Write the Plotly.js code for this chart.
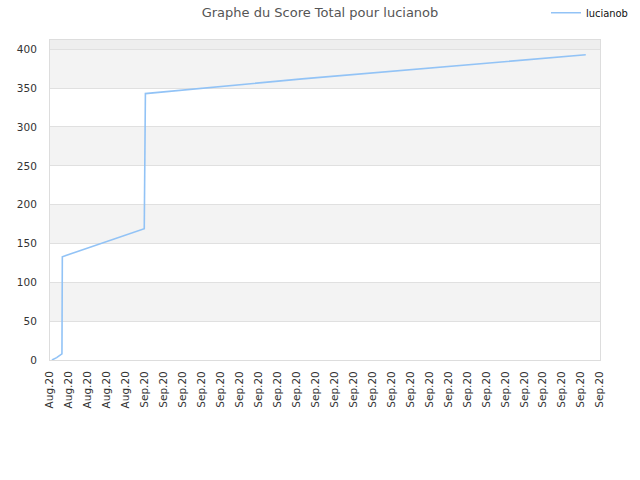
<!DOCTYPE html>
<html>
<head>
<meta charset="utf-8">
<script src="https://cdn.plot.ly/plotly-3.0.1.min.js"></script>
<style>html,body{margin:0;padding:0;background:#fff;}#chart{width:640px;height:480px;}</style>
</head>
<body>
<div id="chart"></div>
<script>
// Tick labels along the x axis (one per regular step)
var tickLabels = ["Aug.20","Aug.20","Aug.20","Aug.20","Aug.20",
  "Sep.20","Sep.20","Sep.20","Sep.20","Sep.20","Sep.20","Sep.20","Sep.20","Sep.20","Sep.20",
  "Sep.20","Sep.20","Sep.20","Sep.20","Sep.20","Sep.20","Sep.20","Sep.20","Sep.20","Sep.20",
  "Sep.20","Sep.20","Sep.20","Sep.20","Sep.20"];
var tickPositions = tickLabels.map(function(_, i){ return i; });

// Score series (x = position on the time axis in tick steps, y = total score)
var seriesName = "lucianob";
var timeSteps = [0.10, 0.35, 0.63, 0.65, 4.97, 4.98, 5.01, 5.03, 13.3, 28.25];
var scores    = [0,    3,    8,    133,  169,  228,  228,  343,  362,  393];

var yBands = [0, 50, 100, 150, 200, 250, 300, 350, 400];

var shapes = [];
for (var i = 0; i < yBands.length - 1; i++) {
  if (i % 2 === 1) {
    shapes.push({type:'rect', xref:'paper', yref:'y', x0:0, x1:1, y0:yBands[i], y1:yBands[i+1],
      fillcolor:'#f3f3f3', line:{width:0}, layer:'below'});
  }
}
shapes.push({type:'rect', xref:'paper', yref:'y', x0:0, x1:1, y0:yBands[yBands.length-1], y1:412,
  fillcolor:'#eeeeee', line:{width:0}, layer:'below'});

var trace = {
  x: timeSteps, y: scores, name: seriesName, type: 'scatter', mode: 'lines',
  line: {color: 'rgba(140,192,245,0.95)', width: 1.6}
};

var layout = {
  width: 640, height: 480,
  margin: {l: 50, r: 40, t: 40, b: 120, autoexpand: false},
  paper_bgcolor: '#ffffff', plot_bgcolor: '#ffffff',
  font: {family: 'DejaVu Sans, sans-serif', size: 10.5, color: '#333333'},
  title: {text: 'Graphe du Score Total pour lucianob', x: 0.5, xanchor: 'center', y: 0.975, yanchor: 'middle',
    font: {family: 'DejaVu Sans, sans-serif', size: 13, color: '#555555'}},
  showlegend: true,
  legend: {x: 1.06, xanchor: 'right', y: 1.085, yanchor: 'middle', orientation: 'h',
    font: {family: 'DejaVu Sans Condensed, DejaVu Sans, sans-serif', size: 11, color: '#111111'},
    bgcolor: 'rgba(0,0,0,0)'},
  xaxis: {range: [0, 29], tickmode: 'array', tickvals: tickPositions, ticktext: tickLabels,
    tickangle: -90, showgrid: false, zeroline: false, showline: true, linecolor: '#dddddd', mirror: true,
    ticks: '', ticklabelstandoff: 6, fixedrange: true},
  yaxis: {range: [0, 412], tickmode: 'array', tickvals: yBands, showgrid: true, gridcolor: '#e0e0e0',
    zeroline: false, showline: true, linecolor: '#dddddd', mirror: true, ticks: '', ticklen: 0,
    ticklabelstandoff: 10, fixedrange: true},
  shapes: shapes
};

Plotly.newPlot('chart', [trace], layout, {displayModeBar: false, staticPlot: true});
</script>
</body>
</html>
